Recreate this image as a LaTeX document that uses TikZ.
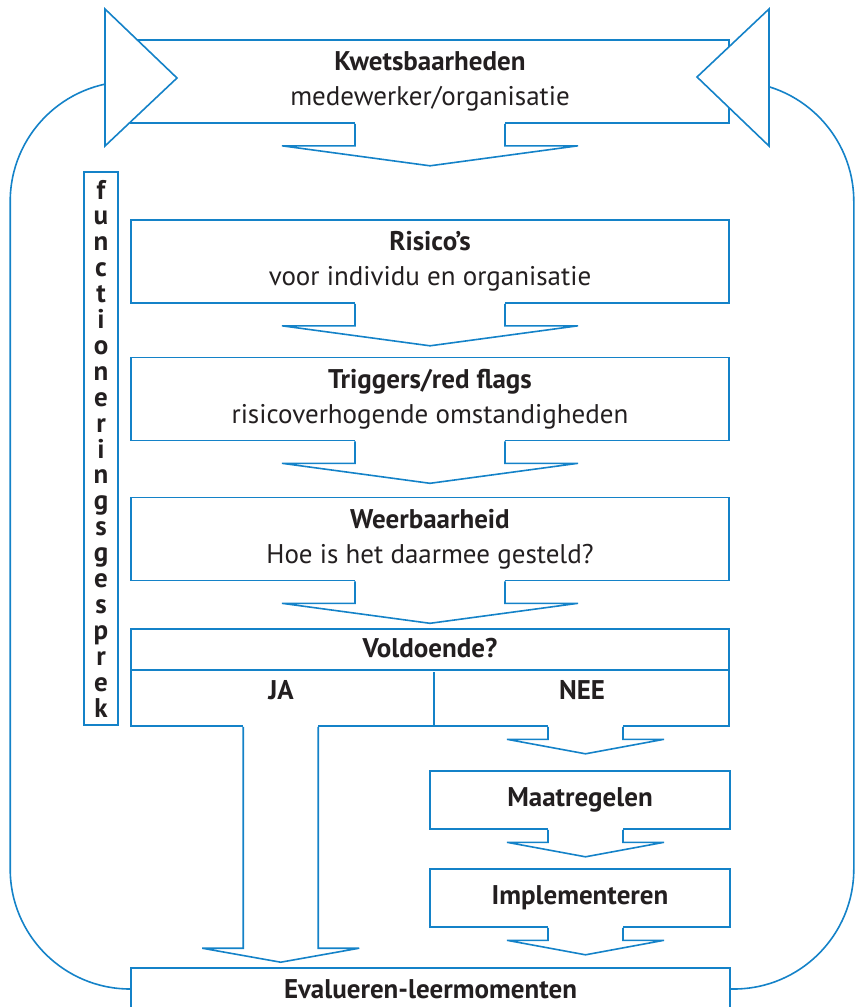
\documentclass[tikz,border=0pt]{standalone}
\usepackage{fontspec}
\setmainfont{PT Sans}
\usepackage{tikz}
\usetikzlibrary{calc}
\definecolor{flowblue}{RGB}{20,130,200}
\definecolor{inkgray}{RGB}{35,31,32}

\begin{document}
\begin{tikzpicture}[x=0.5pt,y=-0.5pt,
  blueline/.style={draw=flowblue,line width=0.8pt},
  box/.style={blueline,fill=white,minimum width=299pt,minimum height=41.5pt,inner sep=0pt,align=center,text=inkgray,font=\fontsize{13.5}{17.5}\selectfont},
  smallbox/.style={box,minimum width=150pt,minimum height=29pt},
  head/.style={text=inkgray,inner sep=0pt,font=\fontsize{13.5}{17.5}\selectfont\bfseries},
  vbox/.style={blueline,minimum width=17pt,minimum height=276.5pt,inner sep=0pt,align=center,text=inkgray,font=\fontsize{13.5}{12.95}\selectfont\bfseries},
  downarrow/.pic={
    \fill[white] (-75,-3) rectangle (75,3);
    \draw[blueline] (-75,0) -- (-75,22) -- (-148,22) -- (0,42) -- (148,22) -- (75,22) -- (75,0);
  },
  smallarrow/.pic={
    \fill[white] (-37.5,-3) rectangle (37.5,3);
    \draw[blueline] (-37.5,0) -- (-37.5,12.5) -- (-78.5,12.5) -- (0,27) -- (78.5,12.5) -- (37.5,12.5) -- (37.5,0);
  }]
  \useasboundingbox (0,0) rectangle (858,1007);
  \clip (0,0) rectangle (858,1007);

  % boxes
  \node[box] (kwets) at (430,81.5) {\textbf{Kwetsbaarheden}\\medewerker/organisatie};
  \node[box] (risk) at (430,261.5) {\textbf{Risico’s}\\voor individu en organisatie};
  \node[box] (trig) at (430,399) {\textbf{Triggers/red flags}\\risicoverhogende omstandigheden};
  \node[box] (weer) at (430,539) {\textbf{Weerbaarheid}\\Hoe is het daarmee gesteld?};
  \node[box,minimum height=48.5pt] (vold) at (430,677.5) {};
  \node[head] (vq) at (430,648) {Voldoende?};
  \node[head] (ja) at (281,690) {JA};
  \node[head] (nee) at (582,690) {NEE};
  \node[smallbox] (maat) at (580,800) {\textbf{Maatregelen}};
  \node[smallbox] (impl) at (580,898) {\textbf{Implementeren}};
  \node[box,minimum width=299.5pt,minimum height=21pt] (eval) at (430.5,989) {\textbf{Evalueren-leermomenten}};
  \node[vbox] (gesprek) at (101,448.5) {f\\u\\n\\c\\t\\i\\o\\n\\e\\r\\i\\n\\g\\s\\g\\e\\s\\p\\r\\e\\k};

  \draw[blueline] ($(vold.north west)+(0,42)$) -- ($(vold.north east)+(0,42)$);
  \draw[blueline] ($(vold.south west)+(304,0)$) -- ($(vold.south west)+(304,-55)$);

  % feedback loop
  \draw[blueline,rounded corners=60pt] (eval.west) -| ($(kwets.west)+(-120,0)$) -- (kwets.west);
  \draw[blueline,rounded corners=60pt] (eval.east) -| ($(kwets.east)+(124,0)$) -- (kwets.east);
  \filldraw[blueline,fill=white] (105,9) -- (177,78) -- (105,146) -- cycle;
  \filldraw[blueline,fill=white] (769,9) -- (697,77) -- (769,146) -- cycle;

  % block arrows
  \pic at (kwets.south) {downarrow};
  \pic at (risk.south) {downarrow};
  \pic at (trig.south) {downarrow};
  \pic at (weer.south) {downarrow};
  \pic at ($(vold.south)+(155.5,0)$) {smallarrow};
  \pic at ($(maat.south)+(5.5,0)$) {smallarrow};
  \pic at ($(impl.south)+(5.5,0)$) {smallarrow};
  \fill[white] ($(vold.south west)+(113,-3)$) rectangle ($(vold.south west)+(188,3)$);
  \draw[blueline] ($(vold.south west)+(113,0)$) |- ($(eval.north west)+(72,-19)$) -- ($(eval.north west)+(150.5,-5)$) -- ($(eval.north west)+(229,-19)$) -| ($(vold.south west)+(188,0)$);
\end{tikzpicture}
\end{document}
